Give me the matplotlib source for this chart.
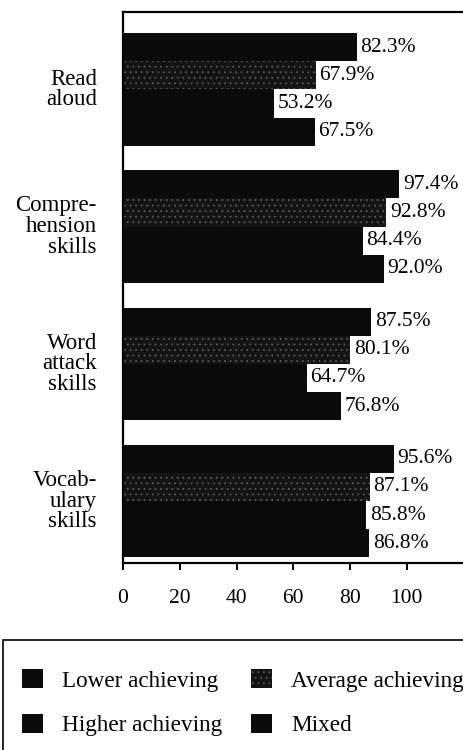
import matplotlib
matplotlib.use("Agg")
import matplotlib.pyplot as plt
from matplotlib.patches import Patch, Rectangle
import matplotlib.transforms as mtransforms

plt.rcParams['font.family'] = ['Liberation Serif', 'DejaVu Serif']
plt.rcParams['hatch.linewidth'] = 0.6

# datos
categorias = ["Read\naloud", "Compre-\nhension\nskills", "Word\nattack\nskills", "Vocab-\nulary\nskills"]
series = ["Lower achieving", "Average achieving", "Higher achieving", "Mixed"]
lower = [82.3, 97.4, 87.5, 95.6]
average = [67.9, 92.8, 80.1, 87.1]
higher = [53.2, 84.4, 64.7, 85.8]
mixed = [67.5, 92.0, 76.8, 86.8]
ticks_x = [0, 20, 40, 60, 80, 100]

valores = [lower, average, higher, mixed]
colores = ['#0b0b0b', '#141414', '#0b0b0b', '#0b0b0b']
hatches = [None, '...', None, None]
bordes = ['#0b0b0b', '#5a5a5a', '#0b0b0b', '#0b0b0b']

fig = plt.figure(figsize=(4.64, 7.5), dpi=100)
ax = fig.add_axes([123/464, 1-563/750, 1-123/464 + 0.01, 551/750])

# etiquetas de categoria: x en figura, y en datos
trans = mtransforms.blended_transform_factory(fig.transFigure, ax.transData)

paso = 4.87
for i, cat in enumerate(categorias):
    c = i * paso
    for j in range(4):
        y = c - 1.5 + j
        v = valores[j][i]
        ax.barh(y, v, height=1.0, color=colores[j], hatch=hatches[j],
                edgecolor=bordes[j], linewidth=0)
        ax.text(v + 1.2, y, f"{v:.1f}%", va='center', ha='left', fontsize=15.5,
                bbox=dict(facecolor='white', edgecolor='none', pad=1.0))
    ax.text(97/464, c, cat, ha='right', va='center', fontsize=16.5,
            linespacing=0.98, multialignment='right', transform=trans)

ax.set_ylim(3 * paso + 2.2, -2.75)
ax.set_xlim(0, 121.8)
ax.set_xticks(ticks_x)
ax.set_xticklabels([str(t) for t in ticks_x], fontsize=15.5)
ax.set_yticks([])
ax.tick_params(axis='x', direction='out', length=5, width=1.4, pad=14)
ax.spines['right'].set_visible(False)
for s in ['left', 'top', 'bottom']:
    ax.spines[s].set_linewidth(1.6)

# leyenda
fig.patches.append(Rectangle((3/464, -0.01), 1.0, 1-640/750 + 0.01,
                             transform=fig.transFigure, fill=False,
                             edgecolor='black', linewidth=1.2))
orden = [0, 2, 1, 3]
handles = [Patch(facecolor=colores[k], hatch=hatches[k],
                 edgecolor=bordes[k], linewidth=0) for k in orden]
fig.legend(handles, [series[k] for k in orden], ncol=2, loc='upper left',
           bbox_to_anchor=(22/464, 1-669/750), frameon=False, fontsize=16.7,
           handlelength=0.9, handleheight=0.9, columnspacing=1.25,
           labelspacing=0.95, handletextpad=0.83, borderpad=0, borderaxespad=0)

fig.savefig("out.png", dpi=100)
